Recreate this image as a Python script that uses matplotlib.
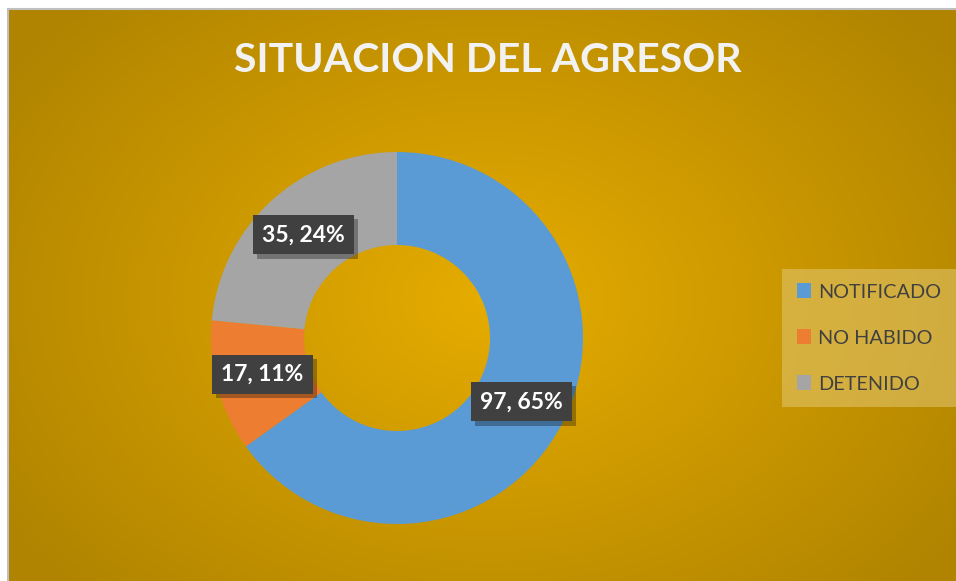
import matplotlib
matplotlib.use("Agg")
import matplotlib.pyplot as plt
import matplotlib.patheffects as pe
from matplotlib.patches import Patch
import numpy as np

# data
categories = ['NOTIFICADO', 'NO HABIDO', 'DETENIDO']
counts = [97, 17, 35]
percents = [65, 11, 24]
colors = ['#5B9BD5', '#ED7D31', '#A5A5A5']
title = 'SITUACION DEL AGRESOR'

W, H = 956, 581
fig = plt.figure(figsize=(W / 100, H / 100), dpi=100)
fig.patch.set_facecolor('white')

# background panel with radial gold gradient
bg = fig.add_axes([8 / W, 0, 1 - 8 / W, 1 - 9 / H])
yy, xx = np.mgrid[0:H - 9, 0:W - 8]
d = np.sqrt(((xx - 480) / 580.0) ** 2 + ((yy - 290) / 420.0) ** 2)
d = np.clip(d, 0, 1)
c_in = np.array([0xE6, 0xAC, 0x00]) / 255.0
c_out = np.array([0xB0, 0x84, 0x00]) / 255.0
img = c_in[None, None, :] * (1 - d[..., None]) + c_out[None, None, :] * d[..., None]
bg.imshow(img, aspect='auto', interpolation='bilinear')
bg.set_xticks([])
bg.set_yticks([])
for s in ['right', 'bottom']:
    bg.spines[s].set_visible(False)
for s in ['top', 'left']:
    bg.spines[s].set_color('#BFBFBF')
    bg.spines[s].set_linewidth(1.5)

# donut
ax = fig.add_axes([211 / W, 57 / H, 372 / W, 372 / H])
wedges, _ = ax.pie(counts, colors=colors, startangle=90, counterclock=False,
                   radius=1.0, wedgeprops=dict(width=0.5, edgecolor='none'))
ax.set_xlim(-1, 1)
ax.set_ylim(-1, 1)
ax.set_aspect('equal')

# value labels in dark boxes with a drop shadow
for w, n, p in zip(wedges, counts, percents):
    ang = np.deg2rad((w.theta1 + w.theta2) / 2)
    x, y = 0.75 * np.cos(ang), 0.75 * np.sin(ang)
    t = ax.text(x, y, '%d, %d%%' % (n, p), ha='center', va='center', fontsize=16.5,
                fontweight='bold', family='Lato', color='white',
                bbox=dict(boxstyle='square,pad=0.4', fc='#404040', ec='none'))
    t.get_bbox_patch().set_path_effects([
        pe.SimplePatchShadow(offset=(3, -3), shadow_rgbFace='black', alpha=0.3),
        pe.Normal()])

fig.text(488 / W, 1 - 60 / H, title, ha='center', va='center',
         fontsize=29.5, fontweight='bold', family='Lato', color='#F2F2F2')

handles = [Patch(facecolor=c, edgecolor='none') for c in colors]
leg = fig.legend(handles, categories, loc='center', bbox_to_anchor=(869 / W, 1 - 338 / H),
                 frameon=True, labelspacing=1.45, handlelength=0.75,
                 handleheight=0.75, handletextpad=0.35, borderpad=0.45,
                 borderaxespad=0, prop=dict(family='Lato', size=14.3))
leg.get_frame().set_facecolor('#E3C874')
leg.get_frame().set_alpha(0.55)
leg.get_frame().set_edgecolor('none')
leg.get_frame().set_boxstyle('square')
for t in leg.get_texts():
    t.set_color('#404040')

fig.savefig('out.png', dpi=100)
